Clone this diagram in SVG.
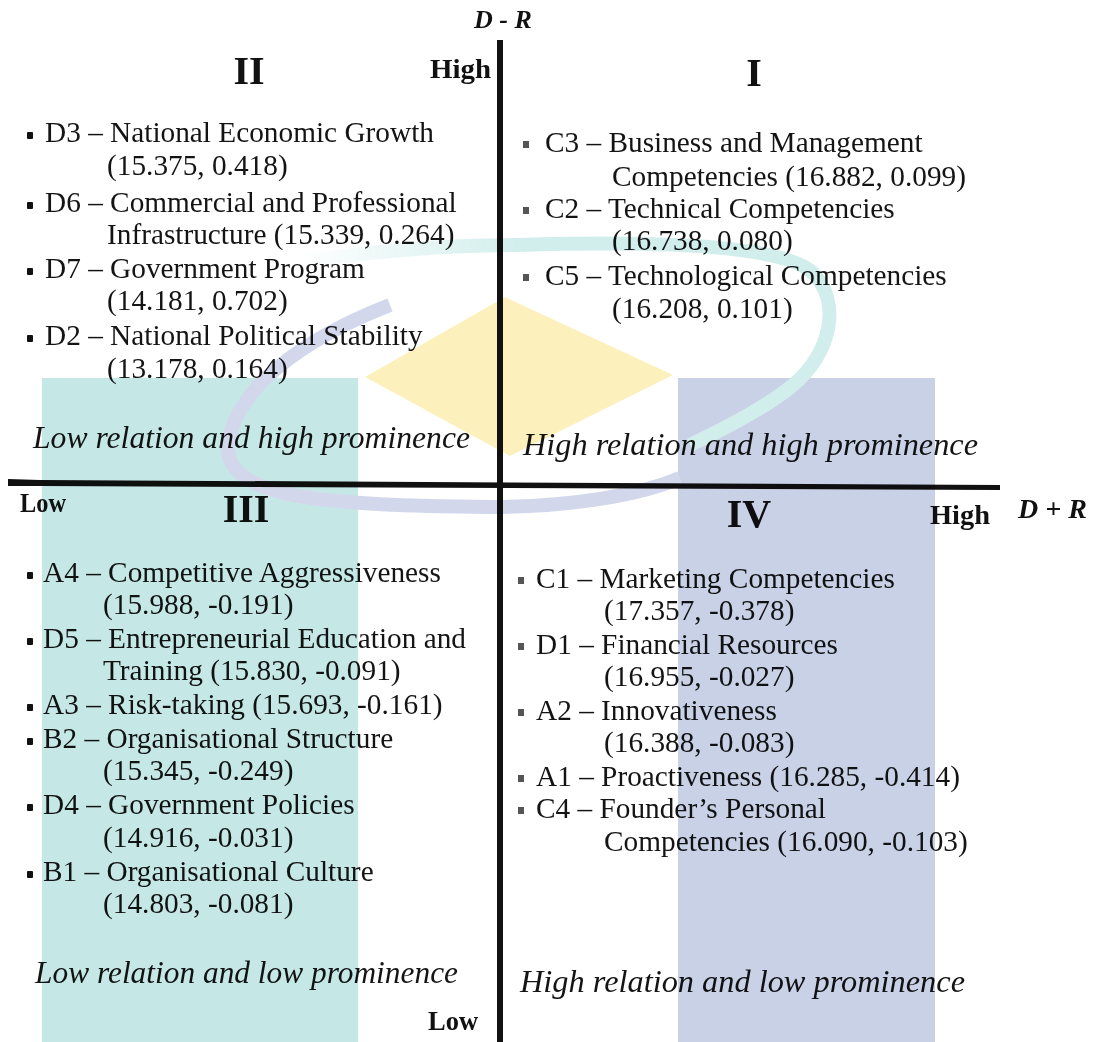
<svg xmlns="http://www.w3.org/2000/svg" width="1096" height="1042" viewBox="0 0 1096 1042">
<style>
.t{font-family:"Liberation Serif","Times New Roman",serif;font-size:29.3px;fill:#141414}
.it{font-family:"Liberation Serif","Times New Roman",serif;font-size:31px;font-style:italic;fill:#141414}
.b{font-family:"Liberation Serif","Times New Roman",serif;font-weight:bold;fill:#111}
.hl{font-size:27px}
.q{font-size:40px}
.ax{font-size:26px;font-style:italic}
.bl{fill:#111}
.bg{fill:#555}
.wm{mix-blend-mode:multiply}
</style>
<defs>
<linearGradient id="tealfade" x1="300" y1="0" x2="520" y2="0" gradientUnits="userSpaceOnUse">
<stop offset="0" stop-color="#d2eeec" stop-opacity="0"/>
<stop offset="1" stop-color="#d2eeec" stop-opacity="1"/>
</linearGradient>
</defs>
<rect width="1096" height="1042" fill="#ffffff"/>
<g id="connectors">
<line x1="500" y1="40" x2="500" y2="1042" stroke="#111" stroke-width="6"/>
<polygon points="8,479 40,480 1000,485 1000,490 40,486 8,486" fill="#111"/>
</g>
<g id="axis-labels">
<text class="b ax" x="474" y="28">D - R</text>
<text class="b ax" x="1018" y="518" style="font-size:28px">D + R</text>
<text class="b hl" x="430" y="78" textLength="61" lengthAdjust="spacingAndGlyphs">High</text>
<text class="b hl" x="930" y="524" textLength="60" lengthAdjust="spacingAndGlyphs">High</text>
<text class="b hl" x="20" y="512" textLength="46" lengthAdjust="spacingAndGlyphs">Low</text>
<text class="b hl" x="428" y="1030" textLength="50" lengthAdjust="spacingAndGlyphs">Low</text>
</g>
<g id="quadrant-II">
<text class="b q" x="249" y="84" text-anchor="middle">II</text>
<rect class="bl" x="27" y="132" width="6" height="7" rx="1"/>
<text class="t" x="45" y="142">D3 – National Economic Growth</text>
<text class="t" x="107" y="175">(15.375, 0.418)</text>
<rect class="bl" x="27" y="202" width="6" height="7" rx="1"/>
<text class="t" x="45" y="212">D6 – Commercial and Professional</text>
<text class="t" x="107" y="244">Infrastructure (15.339, 0.264)</text>
<rect class="bl" x="27" y="268" width="6" height="7" rx="1"/>
<text class="t" x="45" y="278">D7 – Government Program</text>
<text class="t" x="107" y="310">(14.181, 0.702)</text>
<rect class="bl" x="27" y="335" width="6" height="7" rx="1"/>
<text class="t" x="45" y="345">D2 – National Political Stability</text>
<text class="t" x="107" y="378">(13.178, 0.164)</text>
<text class="it" x="33" y="448" textLength="437" lengthAdjust="spacingAndGlyphs">Low relation and high prominence</text>
</g>
<g id="quadrant-I">
<text class="b q" x="754" y="86" text-anchor="middle">I</text>
<rect class="bg" x="523" y="141" width="6" height="7"/>
<text class="t" x="545" y="152">C3 – Business and Management</text>
<text class="t" x="612" y="186">Competencies (16.882, 0.099)</text>
<rect class="bg" x="523" y="207" width="6" height="7"/>
<text class="t" x="545" y="218">C2 – Technical Competencies</text>
<text class="t" x="612" y="250">(16.738, 0.080)</text>
<rect class="bg" x="523" y="274" width="6" height="7"/>
<text class="t" x="545" y="285">C5 – Technological Competencies</text>
<text class="t" x="612" y="318">(16.208, 0.101)</text>
<text class="it" x="523" y="455" textLength="455" lengthAdjust="spacingAndGlyphs">High relation and high prominence</text>
</g>
<g id="quadrant-III">
<text class="b q" x="246" y="522" text-anchor="middle">III</text>
<rect class="bl" x="27" y="572" width="6" height="7" rx="1"/>
<text class="t" x="43" y="582">A4 – Competitive Aggressiveness</text>
<text class="t" x="103" y="614">(15.988, -0.191)</text>
<rect class="bl" x="27" y="638" width="6" height="7" rx="1"/>
<text class="t" x="43" y="648">D5 – Entrepreneurial Education and</text>
<text class="t" x="103" y="680">Training (15.830, -0.091)</text>
<rect class="bl" x="27" y="704" width="6" height="7" rx="1"/>
<text class="t" x="43" y="714">A3 – Risk-taking (15.693, -0.161)</text>
<rect class="bl" x="27" y="738" width="6" height="7" rx="1"/>
<text class="t" x="43" y="748">B2 – Organisational Structure</text>
<text class="t" x="103" y="780">(15.345, -0.249)</text>
<rect class="bl" x="27" y="804" width="6" height="7" rx="1"/>
<text class="t" x="43" y="814">D4 – Government Policies</text>
<text class="t" x="103" y="847">(14.916, -0.031)</text>
<rect class="bl" x="27" y="871" width="6" height="7" rx="1"/>
<text class="t" x="43" y="881">B1 – Organisational Culture</text>
<text class="t" x="103" y="913">(14.803, -0.081)</text>
<text class="it" x="35" y="983" textLength="423" lengthAdjust="spacingAndGlyphs">Low relation and low prominence</text>
</g>
<g id="quadrant-IV">
<text class="b q" x="749" y="527" text-anchor="middle">IV</text>
<rect class="bg" x="518" y="577" width="6" height="7"/>
<text class="t" x="536" y="588">C1 – Marketing Competencies</text>
<text class="t" x="604" y="620">(17.357, -0.378)</text>
<rect class="bg" x="518" y="643" width="6" height="7"/>
<text class="t" x="536" y="654">D1 – Financial Resources</text>
<text class="t" x="604" y="686">(16.955, -0.027)</text>
<rect class="bg" x="518" y="709" width="6" height="7"/>
<text class="t" x="536" y="720">A2 – Innovativeness</text>
<text class="t" x="604" y="752">(16.388, -0.083)</text>
<rect class="bg" x="518" y="775" width="6" height="7"/>
<text class="t" x="536" y="786">A1 – Proactiveness (16.285, -0.414)</text>
<rect class="bg" x="518" y="807" width="6" height="7"/>
<text class="t" x="536" y="818">C4 – Founder’s Personal</text>
<text class="t" x="604" y="851">Competencies (16.090, -0.103)</text>
<text class="it" x="520" y="992" textLength="445" lengthAdjust="spacingAndGlyphs">High relation and low prominence</text>
</g>
<g id="watermark" class="wm">
<rect x="42" y="378" width="316" height="664" fill="#c5e8e6"/>
<rect x="678" y="378" width="257" height="664" fill="#c9d1e6"/>
<polygon points="505,297 673,375 510,456 365,377" fill="#fcf1bc"/>
<path d="M300 262 C380 250 450 245 520 245" fill="none" stroke="url(#tealfade)" stroke-width="14"/>
<path d="M520 245 C650 241 780 244 812 272 C842 302 832 352 792 386 C762 410 722 430 690 445" fill="none" stroke="#d2eeec" stroke-width="14"/>
<path d="M390 305 C300 340 235 390 228 445 C225 500 330 505 490 507 C570 507 640 495 680 478" fill="none" stroke="#d3d7ec" stroke-width="14"/>
</g>
</svg>
